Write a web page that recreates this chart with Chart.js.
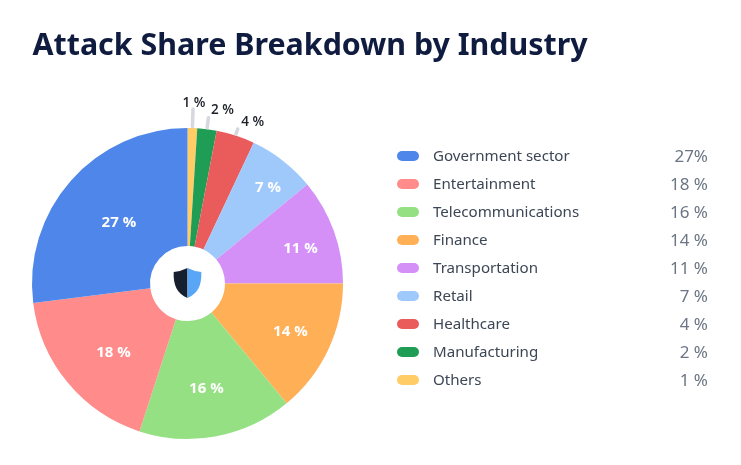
<!DOCTYPE html>
<html>
<head>
<meta charset="utf-8">
<style>html,body{margin:0;padding:0;background:#fff}canvas{display:block}</style>
<script src="https://cdn.jsdelivr.net/npm/chart.js@4"></script>
</head>
<body>
<canvas id="c" width="741" height="465"></canvas>
<script>
const chartTitle = "Attack Share Breakdown by Industry";
const categories = ["Government sector","Entertainment","Telecommunications","Finance","Transportation","Retail","Healthcare","Manufacturing","Others"];
const shares = [27,18,16,14,11,7,4,2,1];
const valueLabels = ["27%","18 %","16 %","14 %","11 %","7 %","4 %","2 %","1 %"];
const colors = ["#4f86e9","#ff8b8b","#96e084","#ffb057","#d490f6","#9fc8fb","#ea5c5c","#1f9d55","#ffcc66"];
const labelFont = "'Open Sans'";
const legendFont = "'Noto Sans'";

// inner label placement: distance from the centre and fine nudge, per category
const innerR = [92.8,100,106,112.6,118,125];
const nudge = [[1,1],[3,5],[-1,1],[1,0],[2,5],[4,3]];
// outer callouts: leader length and label offset from leader tip
const callouts = {6:{len:7,dx:15,dy:-6.5},7:{len:11.5,dx:14,dy:-7.5},8:{len:19,dx:1,dy:-6}};

const overlay = {
  id:'overlay',
  afterDatasetsDraw(chart){
    const ctx = chart.ctx, arcs = chart.getDatasetMeta(0).data, n = categories.length;
    ctx.save();
    // title
    ctx.textBaseline='alphabetic'; ctx.textAlign='left'; ctx.fillStyle='#0f1c3f';
    ctx.font="700 30.4px 'Noto Sans'";
    ctx.fillText(chartTitle,32.5,54.5);
    ctx.textBaseline='middle';
    categories.forEach((name,i)=>{
      const a = arcs[n-1-i], mid=(a.startAngle+a.endAngle)/2;
      if(i<innerR.length){
        ctx.fillStyle='#fff'; ctx.font="700 15px "+labelFont; ctx.textAlign='center';
        ctx.fillText(i===0?"27 %":valueLabels[i], a.x+Math.cos(mid)*innerR[i]+nudge[i][0], a.y+Math.sin(mid)*innerR[i]+nudge[i][1]);
      } else {
        const c=callouts[i], r=a.outerRadius, r2=r+c.len;
        ctx.strokeStyle='#d5d8df'; ctx.lineWidth=3.5; ctx.lineCap='round';
        ctx.beginPath(); ctx.moveTo(a.x+Math.cos(mid)*(r+1.5),a.y+Math.sin(mid)*(r+1.5));
        ctx.lineTo(a.x+Math.cos(mid)*r2,a.y+Math.sin(mid)*r2); ctx.stroke();
        ctx.fillStyle='#1b1f27'; ctx.font="600 13.5px "+labelFont; ctx.textAlign='center';
        ctx.fillText(valueLabels[i], a.x+Math.cos(mid)*r2+c.dx, a.y+Math.sin(mid)*r2+c.dy);
      }
    });
    // shield icon
    const a0=arcs[0], sx=a0.x, sy=a0.y-0.5;
    const half=(s)=>{ctx.beginPath();ctx.moveTo(sx,sy-15);
      ctx.quadraticCurveTo(sx+s*7,sy-11.5,sx+s*13.8,sy-11);
      ctx.bezierCurveTo(sx+s*14.5,sy+2,sx+s*10,sy+11,sx,sy+15);ctx.closePath();};
    ctx.fillStyle='#17202e';half(-1);ctx.fill();
    ctx.fillStyle='#5aa6f6';half(1);ctx.fill();
    // legend
    categories.forEach((name,i)=>{
      const y=156+28*i;
      ctx.fillStyle=colors[i];
      ctx.beginPath();ctx.roundRect(397,y-5,22,10,5);ctx.fill();
      ctx.fillStyle='#3c4655';ctx.font="400 15.1px "+legendFont;ctx.textAlign='left';
      ctx.fillText(name,433,y+1);
      ctx.fillStyle='#6b7583';ctx.font="400 17px "+legendFont;ctx.textAlign='right';
      ctx.fillText(valueLabels[i],708,y+1);
    });
    ctx.restore();
  }
};

new Chart(document.getElementById('c'),{
  type:'doughnut',
  data:{labels:categories.slice().reverse(),datasets:[{data:shares.slice().reverse(),backgroundColor:colors.slice().reverse(),borderWidth:0}]},
  options:{
    responsive:false,animation:false,devicePixelRatio:1,cutout:'24.1%',
    layout:{padding:{left:32,right:398,top:128,bottom:26}},
    events:[],
    plugins:{legend:{display:false},tooltip:{enabled:false},title:{display:false}}
  },
  plugins:[overlay]
});
</script>
</body>
</html>
